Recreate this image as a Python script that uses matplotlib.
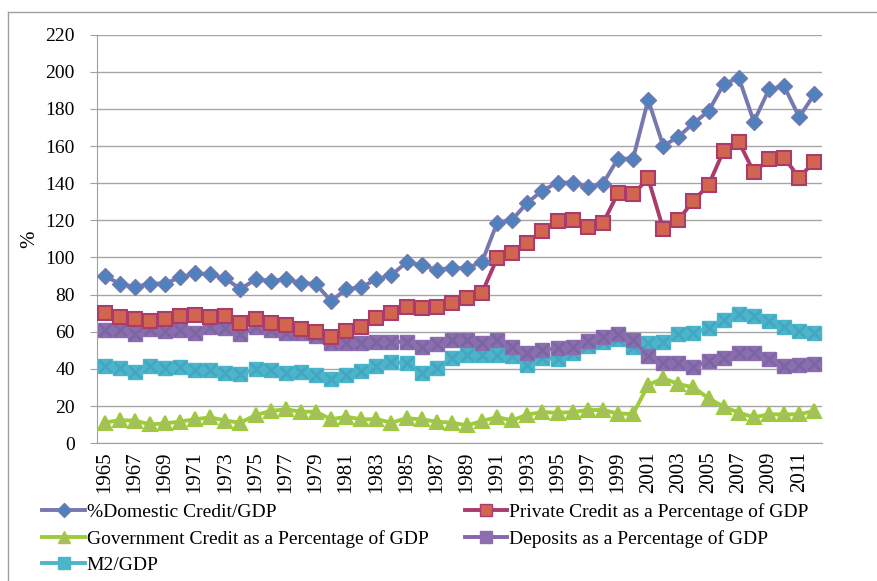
import matplotlib
matplotlib.use('Agg')
import matplotlib.pyplot as plt
from matplotlib.lines import Line2D

years = list(range(1965, 2013))

domestic = [90, 86, 84, 86, 86, 89.3, 91.5, 91, 88.8, 82.9,
            88.3, 87.5, 88.3, 86.4, 85.7, 76.5, 82.9, 84, 88.3, 90.6,
            97.4, 96, 93.3, 94.5, 94.2, 97.7, 118.7, 120.4, 129.5, 136,
            140.3, 140.3, 138.1, 139.6, 153.2, 153.2, 184.8, 160, 165, 172.2,
            178.8, 193.2, 196.8, 173.1, 190.5, 192.3, 175.5, 187.8]
private = [70, 67.8, 67, 65.8, 66.7, 68.5, 69, 68.1, 68.5, 64.6,
           66.9, 64.9, 63.7, 61.5, 60, 57.4, 60.6, 62.8, 67.3, 70,
           73.5, 72.7, 73.5, 75.5, 78, 81.1, 99.6, 102.6, 108, 114.4,
           119.6, 120, 116.6, 118.4, 134.6, 134, 142.6, 115.3, 120.2, 130.6,
           139, 157.5, 162.3, 145.9, 152.8, 153.7, 143, 151.6]
government = [11.1, 12.5, 12.2, 10.2, 10.7, 11.7, 12.9, 14, 12.2, 11.1,
              15.2, 17.4, 18.3, 17, 17, 12.9, 14.3, 12.9, 13, 11.1,
              13.5, 12.9, 11.6, 11.1, 9.6, 12, 14.1, 12.3, 15.5, 16.8,
              16.4, 16.8, 17.9, 17.9, 16, 15.8, 31.4, 35, 31.9, 30.1,
              24.2, 19.7, 16.5, 14, 15.6, 15.6, 15.6, 17.4]
deposits = [61, 61, 58.7, 61.4, 60.6, 61, 59.2, 62.4, 62, 58.8,
            62.4, 61, 59.5, 59.5, 58, 54, 54.1, 54.1, 54.3, 54.6,
            54.6, 51.7, 53.3, 55.4, 55.8, 53.8, 55.6, 52, 48.4, 50.2,
            51.1, 52, 55, 57.4, 58.8, 55.6, 47, 43, 43.3, 41.2,
            44.3, 45.7, 48.4, 48.4, 45.2, 41.6, 42, 42.7]
m2 = [41.6, 40.4, 38.5, 41.6, 40.4, 40.8, 39.5, 39.5, 38, 37.3,
      39.8, 39.5, 38, 38.5, 36.8, 34.4, 36.8, 39, 41.6, 43.9,
      43, 38, 40.4, 46, 47.7, 47.5, 47.5, 47, 42.1, 45.7,
      45.5, 48.4, 52.4, 54.7, 56, 52, 53.8, 54.7, 58.7, 59.2,
      62.2, 66.4, 69.4, 68.5, 66, 62.8, 60.6, 59.2]

labels = ['%Domestic Credit/GDP', 'Private Credit as a Percentage of GDP',
          'Government Credit as a Percentage of GDP', 'Deposits as a Percentage of GDP',
          'M2/GDP']

plt.rcParams['font.family'] = ['Liberation Serif', 'DejaVu Serif']

fig = plt.figure(figsize=(8.78, 5.81), dpi=100)
ax = fig.add_axes([0.1105, 0.237, 0.8255, 0.7036])

ax.plot(years, domestic, color='#7678B0', lw=2.8, marker='D', ms=8,
        mfc='#4F81BD', mec='#7678B0', mew=1, zorder=5)
ax.plot(years, private, color='#A93C6C', lw=2.8, marker='s', ms=10,
        mfc='#D2654F', mec='#A93C6C', mew=1.5, zorder=4)
ax.plot(years, government, color='#9DCB3C', lw=2.8, marker='^', ms=10,
        mfc='#A7BE60', mec='#9DCB3C', mew=1.5, zorder=3)
ax.plot(years, deposits, color='#8566A8', lw=2.8, marker='s', ms=10,
        mfc='#8C6DB0', mec='#8C6DB0', zorder=2)
ax.plot(years, deposits, ls='none', marker='x', ms=9, mew=2,
        mec='#7A66A0', zorder=2)
ax.plot(years, m2, color='#4BB5C9', lw=2.8, marker='s', ms=10,
        mfc='#4BB5C9', mec='#4BB5C9', zorder=1)
ax.plot(years, m2, ls='none', marker='x', ms=9, mew=2,
        mec='#45A6C4', zorder=1)

ax.set_xlim(1964.5, 2012.5)
ax.set_ylim(0, 220)
ax.set_yticks(range(0, 221, 20))
ax.set_xticks(years[::2])
ax.set_xticklabels([str(y) for y in years[::2]], rotation=90, fontsize=15)
ax.tick_params(axis='y', labelsize=14, length=5, color='#A0A0A0', pad=11)
ax.tick_params(axis='x', length=0, pad=6)
ax.yaxis.grid(True, color='#A6A6A6', lw=1)
ax.set_axisbelow(True)
for s in ['top', 'right']:
    ax.spines[s].set_visible(False)
for s in ['left', 'bottom']:
    ax.spines[s].set_color('#A0A0A0')
ax.set_ylabel('%', fontsize=15, labelpad=4)

handles = [
    Line2D([], [], color='#7678B0', lw=2.8, marker='D', ms=7, mfc='#4F81BD', mec='#7678B0'),
    Line2D([], [], color='#A93C6C', lw=2.8, marker='s', ms=8, mfc='#D2654F', mec='#A93C6C'),
    Line2D([], [], color='#9DCB3C', lw=2.8, marker='^', ms=8, mfc='#A7BE60', mec='#9DCB3C'),
    Line2D([], [], color='#8566A8', lw=2.8, marker='s', ms=8, mfc='#8C6DB0', mec='#8C6DB0'),
    Line2D([], [], color='#4BB5C9', lw=2.8, marker='s', ms=8, mfc='#4BB5C9', mec='#4BB5C9'),
]
order = [0, 2, 4, 1, 3]
fig.legend([handles[i] for i in order], [labels[i] for i in order],
           loc='upper left', bbox_to_anchor=(0.048, 0.134), ncol=2,
           frameon=False, fontsize=14, handlelength=2.2, handletextpad=0.1,
           columnspacing=1.85, labelspacing=0.45, borderaxespad=0, borderpad=0)

# chart-area border (top and left)
fig.add_artist(Line2D([0.009, 1], [0.979, 0.979], color='#A0A0A0', lw=1, transform=fig.transFigure))
fig.add_artist(Line2D([0.009, 0.009], [0, 0.979], color='#A0A0A0', lw=1, transform=fig.transFigure))

fig.savefig('out.png', dpi=100)
